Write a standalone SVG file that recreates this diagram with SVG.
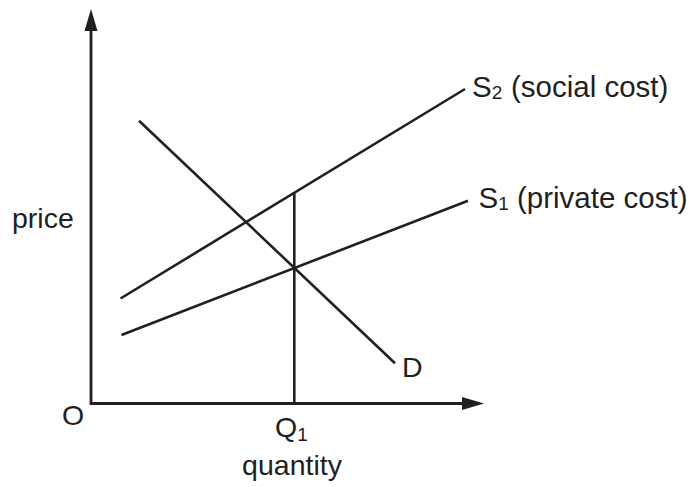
<svg xmlns="http://www.w3.org/2000/svg" width="689" height="487" viewBox="0 0 689 487">
<style>
.ln{stroke:#231f20;stroke-width:2.6;fill:none;stroke-linecap:butt}
.ax{stroke:#231f20;stroke-width:2.8;fill:none}
.ah{fill:#231f20;stroke:none}
.t{font-family:"Liberation Sans",Arial,sans-serif;font-size:28.5px;fill:#231f20}
.b{font-size:29.5px}
.s{font-size:19px}
</style>
<rect width="689" height="487" fill="#ffffff"/>
<g id="axes">
<path class="ax" d="M91,28 V403.5 H465"/>
<polygon class="ah" points="91,9 97.5,31 84.5,31"/>
<polygon class="ah" points="484,403.5 462,397 462,410"/>
</g>
<g id="connectors">
<line id="s2" class="ln" x1="120.5" y1="298.5" x2="465" y2="89"/>
<line id="s1" class="ln" x1="121.5" y1="335" x2="468" y2="200.8"/>
<line id="d" class="ln" x1="139" y1="120.7" x2="395" y2="363.3"/>
<line id="q1line" class="ln" x1="294.3" y1="193" x2="294.3" y2="403.5"/>
</g>
<g id="label-price"><text class="t" x="12" y="228">price</text></g>
<g id="label-origin"><text class="t" x="73" y="425" text-anchor="middle">O</text></g>
<g id="label-q1"><text class="t" x="275" y="437">Q<tspan class="s" dy="4">1</tspan></text></g>
<g id="label-quantity"><text class="t" x="292" y="475" text-anchor="middle">quantity</text></g>
<g id="label-d"><text class="t" x="402" y="377">D</text></g>
<g id="label-s2"><text class="t b" x="472" y="97">S<tspan class="s" dy="2">2</tspan><tspan dy="-2" x="511">(social cost)</tspan></text></g>
<g id="label-s1"><text class="t b" x="478.5" y="207.5">S<tspan class="s" dy="2">1</tspan><tspan dy="-2" x="517">(private cost)</tspan></text></g>
</svg>
